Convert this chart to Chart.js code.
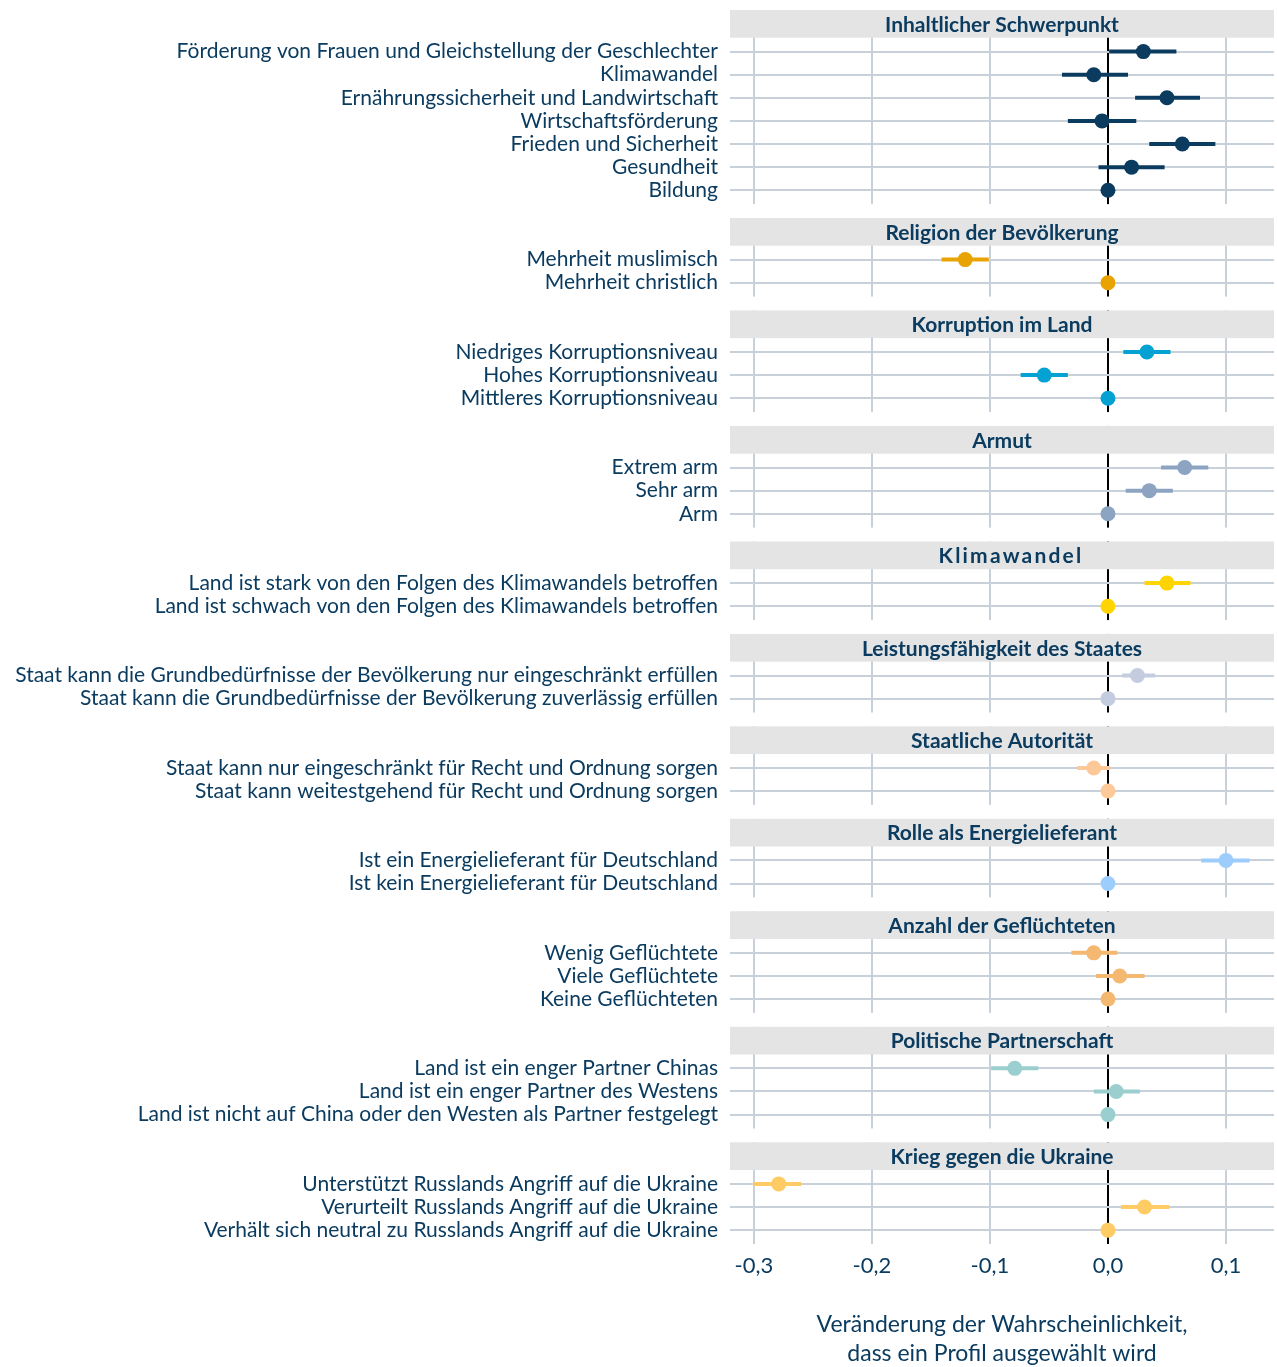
<!DOCTYPE html>
<html lang="de">
<head>
<meta charset="utf-8">
<title>Veränderung der Wahrscheinlichkeit</title>
<script src="https://cdn.jsdelivr.net/npm/chart.js@4.4.1/dist/chart.umd.min.js"></script>
<style>
  html, body { margin: 0; padding: 0; background: #fff; }
  canvas { display: block; }
</style>
</head>
<body>
<canvas id="canva" width="1277" height="1367"></canvas>
<script>
// facet titles
const panelTitles = [
  'Inhaltlicher Schwerpunkt',
  'Religion der Bevölkerung',
  'Korruption im Land',
  'Armut',
  'Klimawandel',
  'Leistungsfähigkeit des Staates',
  'Staatliche Autorität',
  'Rolle als Energielieferant',
  'Anzahl der Geflüchteten',
  'Politische Partnerschaft',
  'Krieg gegen die Ukraine'
];

// rows per facet (last row = reference category)
const rowLabels = [
  ['Förderung von Frauen und Gleichstellung der Geschlechter', 'Klimawandel', 'Ernährungssicherheit und Landwirtschaft',
   'Wirtschaftsförderung', 'Frieden und Sicherheit', 'Gesundheit', 'Bildung'],
  ['Mehrheit muslimisch', 'Mehrheit christlich'],
  ['Niedriges Korruptionsniveau', 'Hohes Korruptionsniveau', 'Mittleres Korruptionsniveau'],
  ['Extrem arm', 'Sehr arm', 'Arm'],
  ['Land ist stark von den Folgen des Klimawandels betroffen', 'Land ist schwach von den Folgen des Klimawandels betroffen'],
  ['Staat kann die Grundbedürfnisse der Bevölkerung nur eingeschränkt erfüllen', 'Staat kann die Grundbedürfnisse der Bevölkerung zuverlässig erfüllen'],
  ['Staat kann nur eingeschränkt für Recht und Ordnung sorgen', 'Staat kann weitestgehend für Recht und Ordnung sorgen'],
  ['Ist ein Energielieferant für Deutschland', 'Ist kein Energielieferant für Deutschland'],
  ['Wenig Geflüchtete', 'Viele Geflüchtete', 'Keine Geflüchteten'],
  ['Land ist ein enger Partner Chinas', 'Land ist ein enger Partner des Westens', 'Land ist nicht auf China oder den Westen als Partner festgelegt'],
  ['Unterstützt Russlands Angriff auf die Ukraine', 'Verurteilt Russlands Angriff auf die Ukraine', 'Verhält sich neutral zu Russlands Angriff auf die Ukraine']
];

const estimates = [
  [0.030, -0.012, 0.050, -0.005, 0.063, 0.020, 0],
  [-0.121, 0],
  [0.033, -0.054, 0],
  [0.065, 0.035, 0],
  [0.050, 0],
  [0.025, 0],
  [-0.012, 0],
  [0.100, 0],
  [-0.012, 0.010, 0],
  [-0.079, 0.007, 0],
  [-0.279, 0.031, 0]
];

const lowerCI = [
  [0.001, -0.039, 0.023, -0.034, 0.035, -0.008, null],
  [-0.141, null],
  [0.013, -0.074, null],
  [0.045, 0.015, null],
  [0.031, null],
  [0.012, null],
  [-0.026, null],
  [0.079, null],
  [-0.031, -0.010, null],
  [-0.099, -0.012, null],
  [-0.300, 0.011, null]
];

const upperCI = [
  [0.058, 0.017, 0.078, 0.024, 0.091, 0.048, null],
  [-0.101, null],
  [0.053, -0.034, null],
  [0.085, 0.055, null],
  [0.070, null],
  [0.040, null],
  [0.002, null],
  [0.120, null],
  [0.008, 0.031, null],
  [-0.059, 0.027, null],
  [-0.260, 0.052, null]
];

const xTicks = [-0.3, -0.2, -0.1, 0.0, 0.1];
const xTitle = ['Veränderung der Wahrscheinlichkeit,', 'dass ein Profil ausgewählt wird'];

const panelColors = ['#0b3c60', '#e9a300', '#04a2d3', '#8ca3c1', '#ffd400', '#c3cddf',
                     '#fdc998', '#9ccdfc', '#f4b870', '#9bcfcf', '#fecb65'];
const textColor = '#0b3c60';
const gridColor = '#c8d1d9';
const stripColor = '#e4e4e4';

Chart.defaults.font.family = 'Lato';

// slot positions: 2 slots for each header strip, then one per row
const rowPos = [];
const posLabel = {};
let slot = 0;
rowLabels.forEach(function (rows) {
  slot += 2;
  rowPos.push(rows.map(function (lab, i) { posLabel[slot + i] = lab; return slot + i; }));
  slot += rows.length;
});
const allPos = [].concat.apply([], rowPos);

const datasets = [];
rowPos.forEach(function (rows, p) {
  datasets.push({
    label: panelTitles[p],
    data: rows.map(function (y, i) { return { x: estimates[p][i], y: y }; }),
    backgroundColor: panelColors[p],
    borderWidth: 0,
    pointRadius: 7.5,
    pointHoverRadius: 7.5,
    order: 0
  });
  const seg = [];
  rows.forEach(function (y, i) {
    if (lowerCI[p][i] === null) return;
    seg.push({ x: lowerCI[p][i], y: y }, { x: upperCI[p][i], y: y }, { x: NaN, y: NaN });
  });
  datasets.push({
    label: panelTitles[p] + ' KI',
    data: seg,
    showLine: true,
    spanGaps: false,
    borderColor: panelColors[p],
    borderWidth: 4,
    borderCapStyle: 'butt',
    pointRadius: 0,
    order: 1
  });
});

// grey strips with facet titles, white gaps between facets
const facetStrips = {
  id: 'facetStrips',
  beforeDatasetsDraw(chart) {
    const ctx = chart.ctx, a = chart.chartArea, y = chart.scales.y;
    ctx.save();
    rowPos.forEach(function (rows, p) {
      const first = rows[0];
      const top = y.getPixelForValue(first - 1.8);
      const bot = y.getPixelForValue(first - 0.6);
      let prev = a.top;
      if (p > 0) {
        const pr = rowPos[p - 1];
        prev = y.getPixelForValue(pr[pr.length - 1] + 0.6);
      }
      ctx.fillStyle = '#ffffff';
      ctx.fillRect(a.left, prev, a.width, top - prev);
      ctx.fillStyle = stripColor;
      ctx.fillRect(a.left, top, a.width, bot - top);
      ctx.fillStyle = textColor;
      ctx.font = 'bold 21px Lato';
      ctx.textAlign = 'center';
      ctx.textBaseline = 'middle';
      const spaced = panelTitles[p] === 'Klimawandel';
      ctx.letterSpacing = spaced ? '2.2px' : '0px';
      ctx.fillText(panelTitles[p], (a.left + a.right) / 2 + (spaced ? 9 : 0), (top + bot) / 2 + 1);
    });
    ctx.restore();
  }
};

new Chart(document.getElementById('canva'), {
  type: 'scatter',
  data: { datasets: datasets },
  plugins: [facetStrips],
  options: {
    responsive: false,
    animation: false,
    devicePixelRatio: 1,
    layout: { autoPadding: false, padding: { top: 10, right: 3, left: 0, bottom: 0 } },
    plugins: {
      legend: { display: false },
      tooltip: { enabled: false }
    },
    scales: {
      x: {
        type: 'linear',
        min: -0.3203,
        max: 0.1407,
        afterBuildTicks: function (s) { s.ticks = xTicks.map(function (v) { return { value: v }; }); },
        afterFit: function (s) { s.height = 123; s.paddingLeft = 0; s.paddingRight = 0; },
        ticks: {
          callback: function (v) { return v.toFixed(1).replace('.', ','); },
          font: { size: 22 },
          color: textColor,
          padding: 9
        },
        grid: {
          color: function (c) { return c.tick && Math.abs(c.tick.value) < 1e-9 ? '#000000' : gridColor; },
          lineWidth: 2,
          drawTicks: false
        },
        border: { display: false },
        title: {
          display: true,
          text: xTitle,
          font: { size: 23, lineHeight: 1.3 },
          color: textColor,
          padding: { top: 0, bottom: -2 }
        }
      },
      y: {
        type: 'linear',
        reverse: true,
        min: allPos[0] - 1.8,
        max: allPos[allPos.length - 1] + 0.6,
        afterBuildTicks: function (s) { s.ticks = allPos.map(function (v) { return { value: v }; }); },
        afterFit: function (s) { s.width = 730; s.paddingTop = 0; s.paddingBottom = 0; },
        ticks: {
          callback: function (v) { return posLabel[v]; },
          font: { size: 21 },
          color: textColor,
          padding: 12,
          autoSkip: false
        },
        grid: { color: gridColor, lineWidth: 2, drawTicks: false },
        border: { display: false }
      }
    }
  }
});
</script>
</body>
</html>
